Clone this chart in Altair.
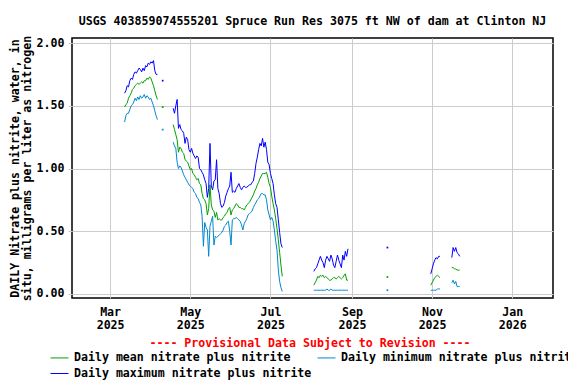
import altair as alt
import pandas as pd

FONT = "DejaVu Sans Mono"
FS = 11.6

TITLE = "USGS 403859074555201 Spruce Run Res 3075 ft NW of dam at Clinton NJ"
Y_TITLE = ["DAILY Nitrate plus nitrite, water, in", "situ, milligrams per liter as nitrogen"]
BANNER = "---- Provisional Data Subject to Revision ----"
SERIES = ["Daily mean nitrate plus nitrite",
          "Daily minimum nitrate plus nitrite",
          "Daily maximum nitrate plus nitrite"]
COLORS = ["#00a000", "#0088d0", "#0000ff"]

# first day of each run of consecutive daily values
seg_start = ["2025-03-12", "2025-04-10", "2025-04-18", "2025-08-03",
             "2025-09-28", "2025-10-31", "2025-11-16"]

max_mar = [1.60, 1.62, 1.66, 1.65, 1.70, 1.72, 1.71, 1.75, 1.77, 1.76, 1.78, 1.80, 1.79,
           1.77, 1.80, 1.78, 1.82, 1.81, 1.84, 1.83, 1.85, 1.84, 1.86, 1.78, 1.75, 1.75]
mean_mar = [1.49, 1.51, 1.52, 1.56, 1.58, 1.60, 1.63, 1.64, 1.66, 1.67, 1.68, 1.67, 1.68,
            1.69, 1.68, 1.70, 1.70, 1.72, 1.71, 1.73, 1.72, 1.69, 1.66, 1.62, 1.58, 1.55]
min_mar = [1.37, 1.42, 1.44, 1.44, 1.47, 1.50, 1.51, 1.53, 1.56, 1.54, 1.57, 1.55, 1.58,
           1.56, 1.57, 1.59, 1.56, 1.58, 1.57, 1.55, 1.56, 1.53, 1.50, 1.46, 1.42, 1.39]

max_apr10 = [1.70]
mean_apr10 = [1.49]
min_apr10 = [1.31]

max_spring = [1.48, 1.44, 1.50, 1.55, 1.32, 1.35, 1.31, 1.30, 1.28, 1.20,
              1.25, 1.23, 1.15, 1.13, 1.16, 1.12, 1.10, 1.08, 1.10, 1.09,
              1.00, 0.99, 0.97, 0.95, 0.91, 0.88, 0.77, 0.84, 1.20, 0.86,
              0.83, 0.90, 0.91, 1.07, 0.84, 0.80, 0.72, 0.69, 0.70, 0.73,
              0.78, 0.81, 0.84, 0.86, 0.97, 0.81, 0.82, 0.81, 0.84, 0.86,
              0.88, 0.85, 0.83, 0.85, 0.86, 0.85, 0.85, 0.86, 0.87, 0.87,
              0.89, 0.90, 0.96, 1.04, 1.09, 1.15, 1.20, 1.18, 1.24, 1.17,
              1.21, 1.15, 1.05, 1.03, 0.96, 0.92, 0.88, 0.79, 0.72, 0.69,
              0.59, 0.49, 0.40, 0.37]
mean_spring = [1.35, 1.31, 1.27, 1.23, 1.13, 1.17, 1.16, 1.13, 1.12, 1.07,
               1.06, 1.05, 1.02, 0.99, 1.00, 0.96, 0.95, 0.93, 0.91, 0.92,
               0.88, 0.87, 0.80, 0.76, 0.75, 0.72, 0.63, 0.68, 0.87, 0.71,
               0.67, 0.66, 0.61, 0.65, 0.59, 0.60, 0.59, 0.59, 0.61, 0.62,
               0.64, 0.65, 0.68, 0.69, 0.63, 0.67, 0.68, 0.70, 0.72, 0.71,
               0.69, 0.69, 0.68, 0.68, 0.67, 0.69, 0.71, 0.72, 0.73, 0.75,
               0.77, 0.79, 0.82, 0.84, 0.87, 0.89, 0.92, 0.94, 0.96, 0.96,
               0.96, 0.97, 0.93, 0.88, 0.85, 0.78, 0.72, 0.67, 0.60, 0.52,
               0.43, 0.33, 0.23, 0.14]
min_spring = [1.21, 1.18, 1.16, 1.05, 1.00, 1.02, 1.01, 0.98, 0.95, 0.93,
              0.91, 0.89, 0.87, 0.86, 0.85, 0.84, 0.81, 0.80, 0.77, 0.76,
              0.73, 0.71, 0.62, 0.38, 0.57, 0.53, 0.51, 0.30, 0.54, 0.58,
              0.62, 0.39, 0.46, 0.45, 0.46, 0.47, 0.48, 0.49, 0.51, 0.54,
              0.55, 0.57, 0.58, 0.50, 0.39, 0.59, 0.60, 0.60, 0.61, 0.60,
              0.59, 0.58, 0.55, 0.51, 0.56, 0.58, 0.60, 0.63, 0.64, 0.65,
              0.66, 0.69, 0.71, 0.73, 0.75, 0.76, 0.78, 0.80, 0.80, 0.79,
              0.79, 0.75, 0.67, 0.63, 0.59, 0.61, 0.58, 0.51, 0.42, 0.35,
              0.19, 0.10, 0.05, 0.02]

max_aug = [0.18, 0.20, 0.21, 0.24, 0.27, 0.30, 0.27, 0.25, 0.21, 0.27, 0.30, 0.28, 0.26, 0.31,
           0.28, 0.23, 0.21, 0.26, 0.31, 0.27, 0.24, 0.21, 0.31, 0.27, 0.34, 0.30, 0.36]
mean_aug = [0.07, 0.09, 0.11, 0.14, 0.13, 0.15, 0.14, 0.15, 0.13, 0.14, 0.13, 0.12, 0.11, 0.11,
            0.12, 0.13, 0.13, 0.12, 0.13, 0.14, 0.13, 0.12, 0.13, 0.15, 0.16, 0.11, 0.11]
min_aug = [0.03, 0.03, 0.03, 0.03, 0.03, 0.03, 0.03, 0.03, 0.03, 0.03, 0.04, 0.03, 0.03, 0.04,
           0.03, 0.03, 0.03, 0.03, 0.03, 0.03, 0.03, 0.03, 0.03, 0.03, 0.03, 0.03, 0.03]

max_sep28 = [0.37]
mean_sep28 = [0.135]
min_sep28 = [0.03]

max_nov1 = [0.16, 0.20, 0.24, 0.27, 0.29, 0.28, 0.30, 0.30]
mean_nov1 = [0.07, 0.09, 0.11, 0.13, 0.14, 0.15, 0.14, 0.13]
min_nov1 = [0.03, 0.03, 0.03, 0.03, 0.03, 0.04, 0.04, 0.04]

max_nov2 = [0.29, 0.37, 0.34, 0.37, 0.33, 0.32, 0.30]
mean_nov2 = [0.21, 0.21, 0.20, 0.20, 0.19, 0.19, 0.19]
min_nov2 = [0.09, 0.11, 0.08, 0.10, 0.06, 0.06, 0.06]

mean_segs = [mean_mar, mean_apr10, mean_spring, mean_aug, mean_sep28, mean_nov1, mean_nov2]
min_segs = [min_mar, min_apr10, min_spring, min_aug, min_sep28, min_nov1, min_nov2]
max_segs = [max_mar, max_apr10, max_spring, max_aug, max_sep28, max_nov1, max_nov2]

rows = []
for s, start in enumerate(seg_start):
    for name, vals in zip(SERIES, [mean_segs[s], min_segs[s], max_segs[s]]):
        dates = pd.date_range(start, periods=len(vals), freq="D")
        for d, v in zip(dates, vals):
            rows.append({"date": d.strftime("%Y-%m-%d"), "value": v, "series": name,
                         "seg": s, "single": len(vals) == 1})
df = pd.DataFrame(rows)

tick_dates = [alt.DateTime(year=2025, month=m, date=1, utc=True) for m in (3, 5, 7, 9, 11)]
tick_dates.append(alt.DateTime(year=2026, month=1, date=1, utc=True))

x_enc = alt.X(
    "date:T",
    scale=alt.Scale(type="utc", domain=[alt.DateTime(year=2025, month=1, date=31, utc=True),
                                        alt.DateTime(year=2026, month=2, date=1, utc=True)]),
    axis=alt.Axis(values=tick_dates,
                  labelExpr="[utcFormat(datum.value, '%b'), utcFormat(datum.value, '%Y')]",
                  ticks=False, grid=True, title=None, labelPadding=8, labelLineHeight=13,
                  domain=False, labelAlign="center"),
)
y_enc = alt.Y(
    "value:Q",
    scale=alt.Scale(domain=[-0.032, 2.04], nice=False, zero=False),
    axis=alt.Axis(values=[0, 0.5, 1.0, 1.5, 2.0], format=".2f", title=Y_TITLE,
                  titleX=-57, titleY=130, titleAngle=270, titleAlign="center",
                  titleBaseline="middle", titleLineHeight=12.5, tickSize=4,
                  labelPadding=4, domain=False, grid=True),
)
color_enc = alt.Color(
    "series:N",
    scale=alt.Scale(domain=SERIES, range=COLORS),
    sort=SERIES,
    legend=alt.Legend(orient="none", legendX=-22, legendY=310, columns=2, direction="horizontal",
                      symbolType="stroke", symbolSize=324, symbolStrokeWidth=1,
                      labelFont=FONT, labelFontSize=FS, labelFontWeight="bold",
                      labelColor="black", labelOffset=5, labelLimit=400,
                      columnPadding=3, rowPadding=0, padding=0, title=None),
)

base = alt.Chart(df)
lines = base.mark_line(strokeWidth=1, clip=True).encode(
    x=x_enc, y=y_enc, color=color_enc, detail="seg:N")
dots = base.transform_filter("datum.single").mark_square(size=3, opacity=1, clip=True).encode(
    x="date:T", y="value:Q", color=alt.Color("series:N", legend=None))

text_style = dict(font=FONT, fontSize=FS, fontWeight="bold", align="center")
title_mark = alt.Chart(pd.DataFrame({"t": [TITLE]})).mark_text(
    color="black", baseline="alphabetic", **text_style).encode(
    x=alt.value(240.5), y=alt.value(-13), text="t:N")
banner = alt.Chart(pd.DataFrame({"t": [BANNER]})).mark_text(
    color="#ff0000", baseline="middle", **text_style).encode(
    x=alt.value(238), y=alt.value(306), text="t:N")

chart = alt.layer(lines, dots, title_mark, banner).properties(
    width=481, height=260,
    background="white",
    autosize=alt.AutoSizeParams(type="none"),
    padding={"left": 64, "top": 30, "right": 15, "bottom": 84},
).configure_view(stroke="black", strokeWidth=1.5).configure_axis(
    labelFont=FONT, labelFontSize=FS, labelFontWeight="bold", labelColor="black",
    titleFont=FONT, titleFontSize=FS, titleFontWeight="bold", titleColor="black",
    gridColor="#cccccc", gridWidth=1, tickColor="#cccccc",
)

chart.save("out.html", embed_options={"renderer": "svg", "actions": False})
